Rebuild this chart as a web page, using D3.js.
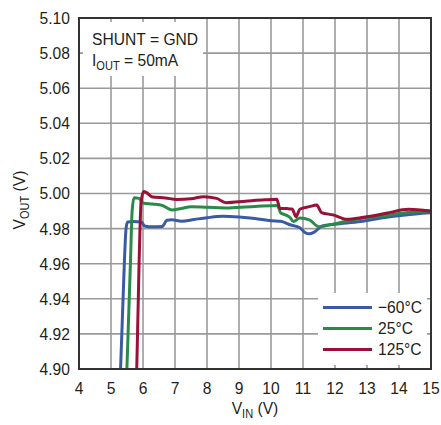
<!DOCTYPE html>
<html>
<head>
<meta charset="utf-8">
<script src="https://cdn.jsdelivr.net/npm/d3@7"></script>
<style>
body { margin: 0; background: #fff; }
text { font-family: "Liberation Sans", Arial, sans-serif; fill: #231f20; }
</style>
</head>
<body>
<div class="chart"></div>
<script>
// x ticks and y ticks
var xTicks = [4, 5, 6, 7, 8, 9, 10, 11, 12, 13, 14, 15];
var yTicks = [4.90, 4.92, 4.94, 4.96, 4.98, 5.00, 5.02, 5.04, 5.06, 5.08, 5.10];

// series (VIN, VOUT)
var vinCold = [5.26, 5.42, 5.47, 5.52, 5.7, 5.95, 6.05, 6.3, 6.6, 6.75, 6.9, 7.2, 7.6, 8.0, 8.5, 9.0, 9.5, 10.0, 10.3, 10.6, 10.9, 11.06, 11.2, 11.35, 11.6, 12.0, 12.8, 13.5, 14.2, 14.97];
var voutCold = [4.88, 4.962, 4.98, 4.9838, 4.984, 4.9838, 4.9815, 4.981, 4.9812, 4.9848, 4.985, 4.9842, 4.9852, 4.9862, 4.987, 4.9866, 4.9858, 4.9845, 4.9842, 4.9822, 4.9805, 4.9778, 4.977, 4.978, 4.9815, 4.9825, 4.984, 4.9862, 4.9878, 4.989];

var vinRoom = [5.46, 5.61, 5.66, 5.72, 5.88, 6.0, 6.3, 6.6, 6.9, 7.2, 7.5, 8.0, 8.7, 9.5, 10.2, 10.3, 10.45, 10.6, 10.7, 10.9, 11.2, 11.5, 12.0, 12.5, 13.0, 13.7, 14.4, 14.97];
var voutRoom = [4.88, 4.962, 4.99, 4.9976, 4.9972, 4.9946, 4.994, 4.9932, 4.9906, 4.9915, 4.9925, 4.9922, 4.9918, 4.9926, 4.9932, 4.989, 4.9878, 4.9862, 4.984, 4.986, 4.985, 4.981, 4.9828, 4.9848, 4.9862, 4.9878, 4.9895, 4.990];

var vinHot = [5.78, 5.88, 5.94, 6.02, 6.1, 6.3, 6.7, 7.05, 7.5, 7.9, 8.3, 8.6, 9.2, 9.8, 10.18, 10.28, 10.5, 10.66, 10.78, 10.9, 11.2, 11.43, 11.58, 11.94, 12.37, 12.9, 13.6, 14.3, 14.97];
var voutHot = [4.88, 4.962, 4.995, 5.0012, 5.0006, 4.998, 4.9975, 4.9966, 4.997, 4.9982, 4.9972, 4.9948, 4.9956, 4.9964, 4.9967, 4.9915, 4.9914, 4.9912, 4.9868, 4.991, 4.9925, 4.9934, 4.9891, 4.9878, 4.9853, 4.9865, 4.9887, 4.991, 4.990];

var seriesNames = ["\u221260\u00b0C", "25\u00b0C", "125\u00b0C"];
var seriesColors = ["#3b5aa6", "#2a8a4a", "#9a1036"];

var W = 441, H = 425;
var m = {left: 79, right: 10, top: 18, bottom: 56};
var SQ = 0.92; // squeeze text a bit, the original face is narrower

var svg = d3.select("div.chart")
            .append("svg")
            .attr("width", W)
            .attr("height", H);

var x = d3.scaleLinear().domain([4, 15]).range([m.left, W - m.right]);
var y = d3.scaleLinear().domain([4.90, 5.10]).range([H - m.bottom, m.top]);

//horizontal squeeze around an anchor x
function squeeze(ax) {
  return "translate(" + ax + ",0) scale(" + SQ + ",1) translate(" + (-ax) + ",0)";
}

svg.append("clipPath").attr("id", "plotclip")
   .append("rect")
   .attr("x", x(4)).attr("y", y(5.10))
   .attr("width", x(15) - x(4)).attr("height", y(4.90) - y(5.10));

//grid
var grid = svg.append("g");
grid.selectAll(".vg").data(xTicks.slice(1, -1)).enter()
    .append("line")
    .attr("x1", d => x(d)).attr("x2", d => x(d))
    .attr("y1", y(5.10)).attr("y2", y(4.90))
    .attr("stroke", "#9a9a9a").attr("stroke-width", 1.6);
grid.selectAll(".hg").data(yTicks.slice(1, -1)).enter()
    .append("line")
    .attr("x1", x(4)).attr("x2", x(15))
    .attr("y1", d => y(d)).attr("y2", d => y(d))
    .attr("stroke", "#9a9a9a").attr("stroke-width", 1.6);

//white boxes over the grid (note + legend), ticks stay visible at the edges
svg.append("rect")
   .attr("x", x(4) + 4).attr("y", y(5.10) + 4)
   .attr("width", 120).attr("height", 54)
   .attr("fill", "#fff");
svg.append("rect")
   .attr("x", 318).attr("y", 293)
   .attr("width", x(15) - 4 - 318).attr("height", y(4.90) - 4 - 293)
   .attr("fill", "#fff");

//curves
var line = d3.line()
             .x(d => x(d[0]))
             .y(d => y(d[1]))
             .curve(d3.curveMonotoneX);

var curves = [
  d3.zip(vinCold, voutCold),
  d3.zip(vinRoom, voutRoom),
  d3.zip(vinHot, voutHot)
];

svg.append("g").attr("clip-path", "url(#plotclip)")
   .selectAll("path").data(curves).enter()
   .append("path")
   .attr("d", line)
   .attr("fill", "none")
   .attr("stroke", (d, i) => seriesColors[i])
   .attr("stroke-width", 3)
   .attr("stroke-linejoin", "round");

//frame
svg.append("rect")
   .attr("x", x(4)).attr("y", y(5.10))
   .attr("width", x(15) - x(4)).attr("height", y(4.90) - y(5.10))
   .attr("fill", "none")
   .attr("stroke", "#333").attr("stroke-width", 2);

//tick labels
svg.selectAll(".yl").data(yTicks).enter()
   .append("text")
   .attr("x", 70).attr("y", d => y(d) + 6)
   .attr("text-anchor", "end")
   .attr("font-size", 17)
   .attr("transform", squeeze(70))
   .text(d => d.toFixed(2));
svg.selectAll(".xl").data(xTicks).enter()
   .append("text")
   .attr("x", d => x(d)).attr("y", H - m.bottom + 25)
   .attr("text-anchor", "middle")
   .attr("font-size", 17)
   .attr("transform", d => squeeze(x(d)))
   .text(d => d);

//axis titles
var xt = svg.append("text")
   .attr("x", 255).attr("y", 414)
   .attr("text-anchor", "middle")
   .attr("font-size", 17)
   .attr("transform", squeeze(255));
xt.append("tspan").text("V");
xt.append("tspan").attr("dy", 4).attr("font-size", 12).text("IN");
xt.append("tspan").attr("dy", -4).text(" (V)");

var yt = svg.append("text")
   .attr("transform", "translate(25,200) rotate(-90) scale(" + SQ + ",1)")
   .attr("text-anchor", "middle")
   .attr("font-size", 17);
yt.append("tspan").text("V");
yt.append("tspan").attr("dy", 4).attr("font-size", 12).text("OUT");
yt.append("tspan").attr("dy", -4).text(" (V)");

//note
svg.append("text").attr("x", 92).attr("y", 45).attr("font-size", 17)
   .attr("transform", squeeze(92)).text("SHUNT = GND");
var note = svg.append("text").attr("x", 92).attr("y", 66).attr("font-size", 17)
   .attr("transform", squeeze(92));
note.append("tspan").text("I");
note.append("tspan").attr("dy", 4).attr("font-size", 12).text("OUT");
note.append("tspan").attr("dy", -4).text(" = 50mA");

//legend
var lg = svg.append("g");
lg.selectAll("line").data(seriesNames).enter()
  .append("line")
  .attr("x1", 323).attr("x2", 372)
  .attr("y1", (d, i) => 307.5 + i * 21).attr("y2", (d, i) => 307.5 + i * 21)
  .attr("stroke", (d, i) => seriesColors[i])
  .attr("stroke-width", 3);
lg.selectAll("text").data(seriesNames).enter()
  .append("text")
  .attr("x", 378).attr("y", (d, i) => 313.5 + i * 21)
  .attr("font-size", 17)
  .attr("transform", squeeze(378))
  .text(d => d);
</script>
</body>
</html>
